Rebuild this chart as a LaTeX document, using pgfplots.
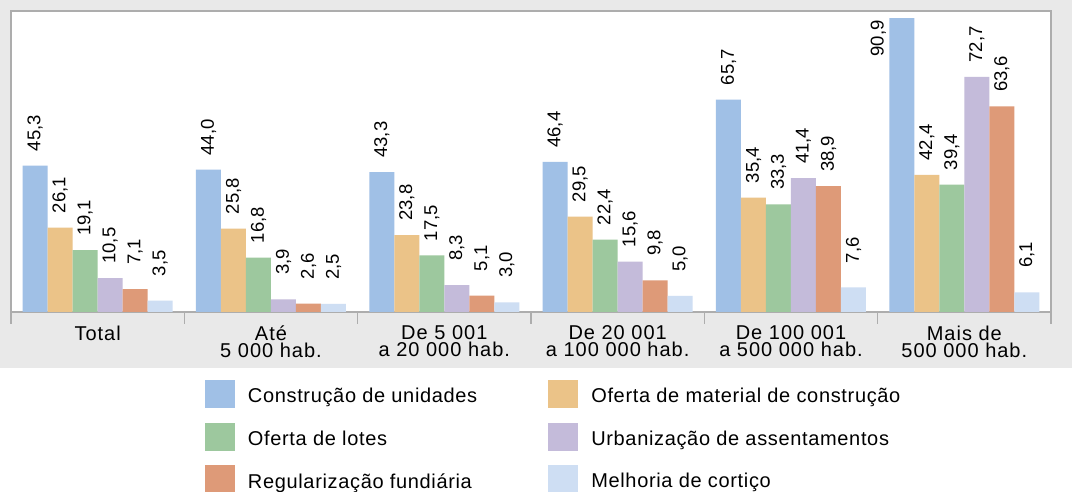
\documentclass[border=0pt]{standalone}
\usepackage{fontspec}
\setmainfont{Liberation Sans}
\newfontfamily\legfont[LetterSpace=3.3]{Liberation Sans}
\newfontfamily\tickfont[LetterSpace=5]{Liberation Sans}
\usepackage{pgfplots}
\pgfplotsset{compat=1.18}
\definecolor{cA}{HTML}{A0C0E6}
\definecolor{cB}{HTML}{EBC388}
\definecolor{cC}{HTML}{9DC89E}
\definecolor{cD}{HTML}{C4BBDA}
\definecolor{cE}{HTML}{DE9A78}
\definecolor{cF}{HTML}{CEDEF3}
\definecolor{bggray}{HTML}{E9E9E9}
\definecolor{framegray}{HTML}{ADADAD}
\tikzset{lblsel/.code={%
  \pgfmathparse{\rawy>80 ? 1 : 0}%
  \ifdim\pgfmathresult pt>0.5pt
    \pgfkeysalso{/tikz/anchor=east,/tikz/inner xsep=1pt,/tikz/yshift=11.75pt}%
  \else
    \pgfmathparse{\rawy<10 ? 1 : 0}%
    \ifdim\pgfmathresult pt>0.5pt
      \pgfkeysalso{/tikz/inner xsep=12pt}%
    \fi
  \fi}}
\begin{document}
\begin{tikzpicture}
\fill[bggray] (-5.5pt,-28pt) rectangle (530.5pt,156pt);
\begin{axis}[
  at={(0pt,0pt)}, anchor=south west,
  scale only axis, width=520pt, height=150.5pt,
  xmin=-0.5, xmax=5.5, ymin=0, ymax=93.1,
  ybar=0pt, bar width=12.5pt,
  axis background/.style={fill=white},
  axis line style={draw=framegray, line width=0.6pt},
  ytick=\empty,
  xtick={0,...,5},
  xticklabels={Total,{Até\\5 000 hab.},{De 5 001\\a 20 000 hab.},{De 20 001\\a 100 000 hab.},{De 100 001\\a 500 000 hab.},{Mais de\\500 000 hab.}},
  xticklabel style={font=\tickfont\fontsize{10}{8.6}\selectfont, align=center, anchor=north, yshift=1pt},
  major x tick style={draw=none},
  minor xtick={-0.5,0.5,1.5,2.5,3.5,4.5,5.5},
  minor tick length=6pt,
  xtick align=outside,
  xtick pos=left,
  minor x tick style={draw=framegray, line width=0.6pt},
  /pgf/number format/.cd, fixed, fixed zerofill, precision=1, use comma, assume math mode=true, /pgfplots/.cd,
  visualization depends on={rawy \as \rawy},
  nodes near coords,
  every node near coord/.append style={rotate=90, anchor=west, font=\fontsize{9.25}{11}\selectfont, inner xsep=7pt, inner ysep=1pt, text=black, lblsel},
  legend columns=2,
  legend cell align=left,
  legend style={at={(0.1865,-0.2259)}, anchor=north west, draw=none, fill=none, inner sep=0pt, outer sep=0pt, row sep=7.3pt,
    nodes={inner sep=0pt, font=\legfont\fontsize{10}{12}\selectfont},
    /tikz/every odd column/.append style={column sep=6.5pt},
    /tikz/every even column/.append style={column sep=35.5pt}},
  legend image code/.code={\fill[#1] (0pt,-5.5pt) rectangle (15pt,8.5pt);},
]
\addplot[fill=cA, draw=none] coordinates {(0,45.3) (1,44.0) (2,43.3) (3,46.4) (4,65.7) (5,90.9)};
\addlegendentry{Construção de unidades}
\addplot[fill=cB, draw=none] coordinates {(0,26.1) (1,25.8) (2,23.8) (3,29.5) (4,35.4) (5,42.4)};
\addlegendentry{Oferta de material de construção}
\addplot[fill=cC, draw=none] coordinates {(0,19.1) (1,16.8) (2,17.5) (3,22.4) (4,33.3) (5,39.4)};
\addlegendentry{Oferta de lotes}
\addplot[fill=cD, draw=none] coordinates {(0,10.5) (1,3.9) (2,8.3) (3,15.6) (4,41.4) (5,72.7)};
\addlegendentry{Urbanização de assentamentos}
\addplot[fill=cE, draw=none] coordinates {(0,7.1) (1,2.6) (2,5.1) (3,9.8) (4,38.9) (5,63.6)};
\addlegendentry{Regularização fundiária}
\addplot[fill=cF, draw=none] coordinates {(0,3.5) (1,2.5) (2,3.0) (3,5.0) (4,7.6) (5,6.1)};
\addlegendentry{Melhoria de cortiço}
\end{axis}
\pgfresetboundingbox
\useasboundingbox (-5.5pt,-90pt) rectangle (530.5pt,156pt);
\end{tikzpicture}
\end{document}
